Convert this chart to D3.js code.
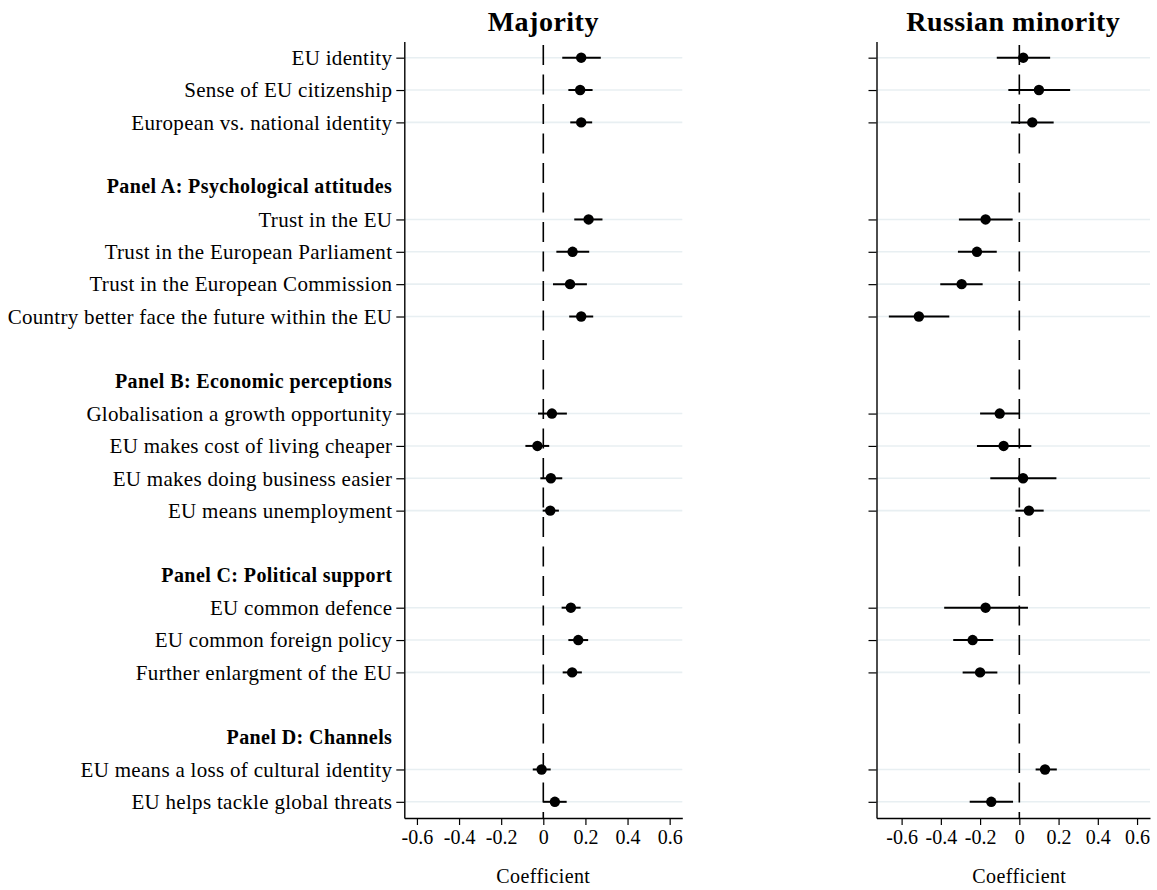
<!DOCTYPE html>
<html>
<head>
<meta charset="utf-8">
<script src="https://cdn.jsdelivr.net/npm/d3@7"></script>
<style>
  html, body { margin: 0; padding: 0; background: #fff; }
  svg { display: block; font-family: "Liberation Serif", "Times New Roman", serif; }
</style>
</head>
<body>
<svg id="chart" width="1157" height="890"></svg>
<script>
// ---- data ----
const panelHeaders = ["", "Panel A: Psychological attitudes", "Panel B: Economic perceptions", "Panel C: Political support", "Panel D: Channels"];
const panelItems = [
  ["EU identity", "Sense of EU citizenship", "European vs. national identity"],
  ["Trust in the EU", "Trust in the European Parliament", "Trust in the European Commission", "Country better face the future within the EU"],
  ["Globalisation a growth opportunity", "EU makes cost of living cheaper", "EU makes doing business easier", "EU means unemployment"],
  ["EU common defence", "EU common foreign policy", "Further enlargment of the EU"],
  ["EU means a loss of cultural identity", "EU helps tackle global threats"]
];
const majorityCoef = [0.180, 0.175, 0.180, 0.215, 0.139, 0.127, 0.180, 0.041, -0.028, 0.036, 0.033, 0.131, 0.166, 0.137, -0.008, 0.055];
const majorityLow  = [0.090, 0.119, 0.128, 0.147, 0.062, 0.046, 0.123, -0.025, -0.085, -0.014, -0.003, 0.087, 0.119, 0.092, -0.050, 0.000];
const majorityHigh = [0.273, 0.234, 0.232, 0.281, 0.218, 0.207, 0.237, 0.112, 0.028, 0.090, 0.074, 0.177, 0.213, 0.183, 0.035, 0.111];
const minorityCoef = [0.020, 0.100, 0.066, -0.172, -0.216, -0.294, -0.512, -0.100, -0.080, 0.019, 0.049, -0.172, -0.238, -0.200, 0.131, -0.143];
const minorityLow  = [-0.115, -0.056, -0.042, -0.308, -0.313, -0.403, -0.665, -0.200, -0.216, -0.148, -0.020, -0.383, -0.337, -0.289, 0.083, -0.253];
const minorityHigh = [0.157, 0.259, 0.175, -0.034, -0.115, -0.187, -0.357, 0.000, 0.061, 0.189, 0.124, 0.044, -0.133, -0.112, 0.191, -0.032];
const xTicks = [-0.6, -0.4, -0.2, 0, 0.2, 0.4, 0.6];
const xTickLabels = ["-0.6", "-0.4", "-0.2", "0", "0.2", "0.4", "0.6"];
const panelTitles = ["Majority", "Russian minority"];
const xTitle = "Coefficient";
const majorityDomain = [-0.66, 0.66];
const minorityDomain = [-0.728, 0.666];

// ---- row structure ----
const rows = [];
let itemIdx = 0;
panelItems.forEach((its, g) => {
  if (g > 0) {
    rows.push({ key: "blank" + g, type: "blank" });
    rows.push({ key: "header" + g, type: "header", label: panelHeaders[g] });
  }
  its.forEach(lbl => {
    rows.push({ key: "item" + itemIdx, type: "item", label: lbl, idx: itemIdx });
    itemIdx++;
  });
});
const itemRows = rows.filter(r => r.type === "item");
const headerRows = rows.filter(r => r.type === "header");

const svg = d3.select("#chart");
const yTop = 41.5, yBottom = 818;
const y = d3.scalePoint().domain(rows.map(r => r.key)).range([yTop, yBottom]).padding(0.5);

const panels = [
  { title: panelTitles[0], range: [404.3, 682.3], domain: majorityDomain, coef: majorityCoef, lo: majorityLow, hi: majorityHigh, labels: true },
  { title: panelTitles[1], range: [876.5, 1150], domain: minorityDomain, coef: minorityCoef, lo: minorityLow, hi: minorityHigh, labels: false }
];

panels.forEach(p => {
  const x = d3.scaleLinear().domain(p.domain).range(p.range);
  const g = svg.append("g");

  g.selectAll("line.grid").data(itemRows).join("line")
    .attr("class", "grid")
    .attr("x1", p.range[0]).attr("x2", p.range[1])
    .attr("y1", d => y(d.key)).attr("y2", d => y(d.key))
    .attr("stroke", "#e8eff2").attr("stroke-width", 1.6);

  g.append("line")
    .attr("x1", x(0)).attr("x2", x(0))
    .attr("y1", yTop).attr("y2", yBottom)
    .attr("stroke", "#000").attr("stroke-width", 1.6)
    .attr("stroke-dasharray", "20,9.5").attr("stroke-dashoffset", 26);

  const yAxis = d3.axisLeft(y)
    .tickValues(itemRows.map(d => d.key))
    .tickFormat(k => p.labels ? rows.find(r => r.key === k).label : "")
    .tickSize(8).tickSizeOuter(0).tickPadding(4);
  const ya = g.append("g").attr("transform", `translate(${p.range[0]},0)`).call(yAxis);
  ya.select(".domain").attr("stroke", "#000").attr("stroke-width", 1.4);
  ya.selectAll(".tick line").attr("stroke", "#000").attr("stroke-width", 1.2);
  ya.selectAll(".tick text").attr("font-size", 21).attr("fill", "#000")
    .attr("letter-spacing", "0.3px")
    .attr("font-family", "Liberation Serif");

  if (p.labels) {
    g.selectAll("text.header").data(headerRows).join("text")
      .attr("class", "header")
      .attr("x", p.range[0] - 12).attr("y", d => y(d.key))
      .attr("dy", "0.32em").attr("text-anchor", "end")
      .attr("font-size", 20).attr("font-weight", "bold").attr("fill", "#000")
      .attr("letter-spacing", "0.4px")
      .text(d => d.label);
  }

  const xAxis = d3.axisBottom(x).tickValues(xTicks)
    .tickFormat((d, i) => xTickLabels[i]).tickSize(7).tickSizeOuter(0).tickPadding(5);
  const xa = g.append("g").attr("transform", `translate(0,${yBottom})`).call(xAxis);
  xa.select(".domain").attr("stroke", "#000").attr("stroke-width", 1.4);
  xa.selectAll(".tick line").attr("stroke", "#000").attr("stroke-width", 1.2);
  xa.selectAll(".tick text").attr("font-size", 20).attr("fill", "#000")
    .attr("font-family", "Liberation Serif");

  g.selectAll("line.ci").data(itemRows).join("line")
    .attr("class", "ci")
    .attr("x1", d => x(p.lo[d.idx])).attr("x2", d => x(p.hi[d.idx]))
    .attr("y1", d => y(d.key)).attr("y2", d => y(d.key))
    .attr("stroke", "#000").attr("stroke-width", 2);

  g.selectAll("circle.pt").data(itemRows).join("circle")
    .attr("class", "pt")
    .attr("cx", d => x(p.coef[d.idx])).attr("cy", d => y(d.key))
    .attr("r", 5.2).attr("fill", "#000");

  const cx = (p.range[0] + p.range[1]) / 2;
  g.append("text").attr("x", cx).attr("y", 31).attr("text-anchor", "middle")
    .attr("font-size", 28).attr("font-weight", "bold").attr("fill", "#000")
    .attr("letter-spacing", "0.5px")
    .text(p.title);

  g.append("text").attr("x", x(0)).attr("y", 883).attr("text-anchor", "middle")
    .attr("font-size", 20).attr("fill", "#000").attr("letter-spacing", "0.4px").text(xTitle);
});
</script>
</body>
</html>
